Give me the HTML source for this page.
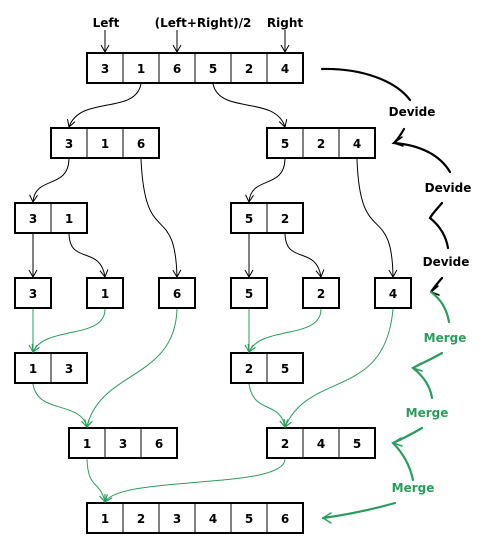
<!DOCTYPE html>
<html><head><style>
html,body{margin:0;padding:0;background:#fff;}
svg{display:block;}
text{font-family:"DejaVu Sans","Liberation Sans",sans-serif;font-size:12px;font-weight:bold;}
</style></head><body>
<svg width="485" height="553" viewBox="0 0 485 553" xmlns="http://www.w3.org/2000/svg">
<defs>
<marker id="ab" markerWidth="10" markerHeight="10" refX="9" refY="5" orient="auto" viewBox="0 0 10 10" markerUnits="userSpaceOnUse"><path d="M2,1 L9,5 L2,9" fill="none" stroke="#000" stroke-width="1"/></marker>
<marker id="ag" markerWidth="10" markerHeight="10" refX="9" refY="5" orient="auto" viewBox="0 0 10 10" markerUnits="userSpaceOnUse"><path d="M2,1 L9,5 L2,9" fill="none" stroke="#2a9d5c" stroke-width="1.2"/></marker>
</defs>
<g fill="none" stroke="#000" stroke-width="2">
<rect x="87" y="53" width="216" height="30"/>
<rect x="51" y="128" width="108" height="30"/><rect x="267" y="128" width="108" height="30"/>
<rect x="15" y="203" width="72" height="30"/><rect x="231" y="203" width="72" height="30"/>
<rect x="15" y="278" width="36" height="30"/><rect x="87" y="278" width="36" height="30"/><rect x="159" y="278" width="36" height="30"/>
<rect x="231" y="278" width="36" height="30"/><rect x="303" y="278" width="36" height="30"/><rect x="375" y="278" width="36" height="30"/>
<rect x="15" y="353" width="72" height="30"/><rect x="231" y="353" width="72" height="30"/>
<rect x="69" y="428" width="108" height="30"/><rect x="267" y="428" width="108" height="30"/>
<rect x="87" y="503" width="216" height="30"/>
</g>
<g stroke="#000" stroke-width="1">
<path d="M123 53V83M159 53V83M195 53V83M231 53V83M267 53V83"/>
<path d="M87 128V158M123 128V158M303 128V158M339 128V158"/>
<path d="M51 203V233M267 203V233M51 353V383M267 353V383"/>
<path d="M105 428V458M141 428V458M303 428V458M339 428V458"/>
<path d="M123 503V533M159 503V533M195 503V533M231 503V533M267 503V533"/>
</g>
<g text-anchor="middle">
<text x="105" y="73">3</text><text x="141" y="73">1</text><text x="177" y="73">6</text><text x="213" y="73">5</text><text x="249" y="73">2</text><text x="285" y="73">4</text>
<text x="69" y="148">3</text><text x="105" y="148">1</text><text x="141" y="148">6</text><text x="285" y="148">5</text><text x="321" y="148">2</text><text x="357" y="148">4</text>
<text x="33" y="223">3</text><text x="69" y="223">1</text><text x="249" y="223">5</text><text x="285" y="223">2</text>
<text x="33" y="298">3</text><text x="105" y="298">1</text><text x="177" y="298">6</text><text x="249" y="298">5</text><text x="321" y="298">2</text><text x="393" y="298">4</text>
<text x="33" y="373">1</text><text x="69" y="373">3</text><text x="249" y="373">2</text><text x="285" y="373">5</text>
<text x="87" y="448">1</text><text x="123" y="448">3</text><text x="159" y="448">6</text><text x="285" y="448">2</text><text x="321" y="448">4</text><text x="357" y="448">5</text>
<text x="105" y="523">1</text><text x="141" y="523">2</text><text x="177" y="523">3</text><text x="213" y="523">4</text><text x="249" y="523">5</text><text x="285" y="523">6</text>
<text x="106" y="27">Left</text><text x="203" y="27">(Left+Right)/2</text><text x="285" y="27">Right</text>
<text x="412" y="116">Devide</text><text x="448" y="192">Devide</text><text x="446" y="266">Devide</text>
<g fill="#2a9d5c"><text x="445" y="342">Merge</text><text x="427" y="417">Merge</text><text x="413" y="492">Merge</text></g>
</g>
<g fill="none" stroke="#000" stroke-width="1">
<path d="M105 30V52" marker-end="url(#ab)"/><path d="M177 30V52" marker-end="url(#ab)"/><path d="M285 30V52" marker-end="url(#ab)"/>
<path d="M141 84C135 115 80 95 69 127" marker-end="url(#ab)"/>
<path d="M213 84C220 115 275 95 285 127" marker-end="url(#ab)"/>
<path d="M69 159C68 190 35 175 33 202" marker-end="url(#ab)"/>
<path d="M285 159C284 190 251 175 249 202" marker-end="url(#ab)"/>
<path d="M141 159C145 250 175 200 177 277" marker-end="url(#ab)"/>
<path d="M357 159C360 250 392 200 393 277" marker-end="url(#ab)"/>
<path d="M33 234V277" marker-end="url(#ab)"/><path d="M249 234V277" marker-end="url(#ab)"/>
<path d="M69 234C70 265 100 245 105 277" marker-end="url(#ab)"/>
<path d="M285 234C286 265 316 245 321 277" marker-end="url(#ab)"/>
</g>
<g fill="none" stroke="#2a9d5c" stroke-width="1">
<path d="M33 309V352" marker-end="url(#ag)"/><path d="M249 309V352" marker-end="url(#ag)"/>
<path d="M105 309C105 340 45 325 33 352" marker-end="url(#ag)"/>
<path d="M321 309C321 340 261 325 249 352" marker-end="url(#ag)"/>
<path d="M177 309C175 380 100 370 87 427" marker-end="url(#ag)"/>
<path d="M393 309C385 400 310 370 285 427" marker-end="url(#ag)"/>
<path d="M33 384C38 415 80 400 87 427" marker-end="url(#ag)"/>
<path d="M249 384C254 415 280 400 285 427" marker-end="url(#ag)"/>
<path d="M87 459C88 490 100 480 105 502" marker-end="url(#ag)"/>
<path d="M285 459C285 490 120 475 105 502" marker-end="url(#ag)"/>
</g>
<g fill="none" stroke="#000" stroke-width="2.2" stroke-linecap="round">
<path d="M322 69C360 68 395 80 410 100"/>
<path d="M404 129C400 136 397 140 394 143C420 145 440 155 450 172"/>
<path d="M394 143L402 137M394 143L403 146" stroke-width="1.5"/>
<path d="M442 203C436 210 432 214 430 218C440 226 446 236 448 248"/>
<path d="M442 278C436 285 433 289 431 292"/>
<path d="M431 292L438 286M431 292L439 295" stroke-width="1.5"/>
</g>
<g fill="none" stroke="#2a9d5c" stroke-width="2.2" stroke-linecap="round">
<path d="M431 292C442 300 447 310 449 322"/>
<path d="M442 353C430 360 420 364 413 368C422 375 430 385 432 398"/>
<path d="M413 368L421 363M413 368L422 371" stroke-width="1.5"/>
<path d="M422 428C410 435 400 440 393 443C402 452 410 465 413 480"/>
<path d="M393 443L401 438M393 443L402 446" stroke-width="1.5"/>
<path d="M395 503C370 510 345 515 323 518"/>
<path d="M323 518L331 513M323 518L331 523" stroke-width="1.5"/>
</g>
</svg>
</body></html>
